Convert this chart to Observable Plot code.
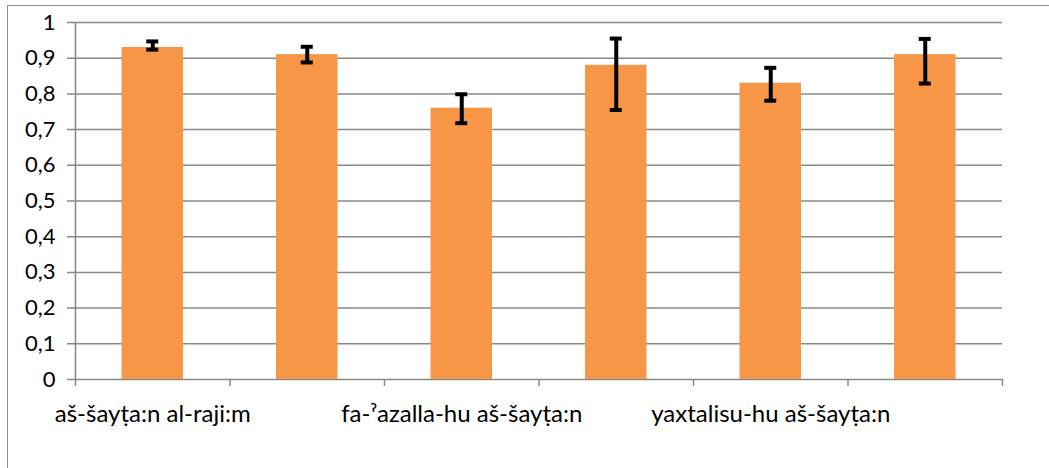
<!DOCTYPE html>
<html>
<head>
<meta charset="utf-8">
<script src="https://cdn.jsdelivr.net/npm/d3@7"></script>
<script src="https://cdn.jsdelivr.net/npm/@observablehq/plot@0.6"></script>
<style>
  html, body { margin: 0; padding: 0; background: #fff; overflow: hidden; }
  #wrap { position: relative; width: 1049px; height: 468px; }
  #frame { position: absolute; left: 7px; top: 5px; width: 1100px; height: 500px;
           border-left: 1.5px solid #8a8a8a; border-top: 1.5px solid #8a8a8a; }
  #chart { position: absolute; left: 0; top: 0; }
</style>
</head>
<body>
<div id="wrap"><div id="frame"></div><div id="chart"></div></div>
<script>
const labels = ["aš-šayṭa:n al-raji:m", "", "fa-ˀazalla-hu aš-šayṭa:n", "", "yaxtalisu-hu aš-šayṭa:n", ""];
const means = [0.93, 0.91, 0.76, 0.88, 0.83, 0.91];
const lower = [0.924, 0.888, 0.718, 0.755, 0.781, 0.829];
const upper = [0.947, 0.932, 0.799, 0.955, 0.873, 0.954];
const yTicks = [0, 0.1, 0.2, 0.3, 0.4, 0.5, 0.6, 0.7, 0.8, 0.9, 1];

const data = means.map((v, i) => ({i, label: labels[i], v, lo: lower[i], hi: upper[i]}));
const fmt = d => (d === 0 ? "0" : d === 1 ? "1" : d.toFixed(1).replace(".", ","));
const grid = "#888888";

const chart = Plot.plot({
  width: 1049,
  height: 468,
  marginLeft: 75,
  marginRight: 47,
  marginTop: 22,
  marginBottom: 89,
  x: {type: "linear", domain: [0, labels.length], axis: null},
  y: {domain: [0, 1], axis: null},
  style: {fontFamily: "Lato, sans-serif", fontSize: "22px", color: "#000", background: "transparent"},
  marks: [
    Plot.ruleY(yTicks, {stroke: grid, strokeWidth: 1.5, insetLeft: -8}),
    Plot.ruleX([0], {y1: 0, y2: 1, stroke: grid, strokeWidth: 1.5}),
    Plot.axisX({ticks: d3.range(labels.length + 1), tickSize: 7, tickFormat: () => "", label: null, stroke: grid, strokeWidth: 1.5, strokeOpacity: 1}),
    Plot.axisY({ticks: yTicks, tickSize: 0, tickPadding: 20, tickFormat: fmt, label: null, fontSize: 22, fill: "#000"}),
    Plot.rectY(data, {x1: "i", x2: d => d.i + 1, y1: 0, y2: "v", insetLeft: 46.5, insetRight: 46.5, fill: "#F79646"}),
    Plot.ruleX(data, {x: d => d.i + 0.5, y1: "lo", y2: "hi", stroke: "#000", strokeWidth: 4}),
    Plot.ruleY(data, {x1: d => d.i + 0.5, x2: d => d.i + 0.5, y: "lo", insetLeft: -6, insetRight: -6, stroke: "#000", strokeWidth: 4}),
    Plot.ruleY(data, {x1: d => d.i + 0.5, x2: d => d.i + 0.5, y: "hi", insetLeft: -6, insetRight: -6, stroke: "#000", strokeWidth: 4}),
    Plot.text(data, {x: d => d.i + 0.5, y: 0, text: "label", dy: 42, lineAnchor: "bottom", fontSize: 24, fill: "#000"})
  ]
});
document.getElementById("chart").appendChild(chart);
</script>
</body>
</html>
